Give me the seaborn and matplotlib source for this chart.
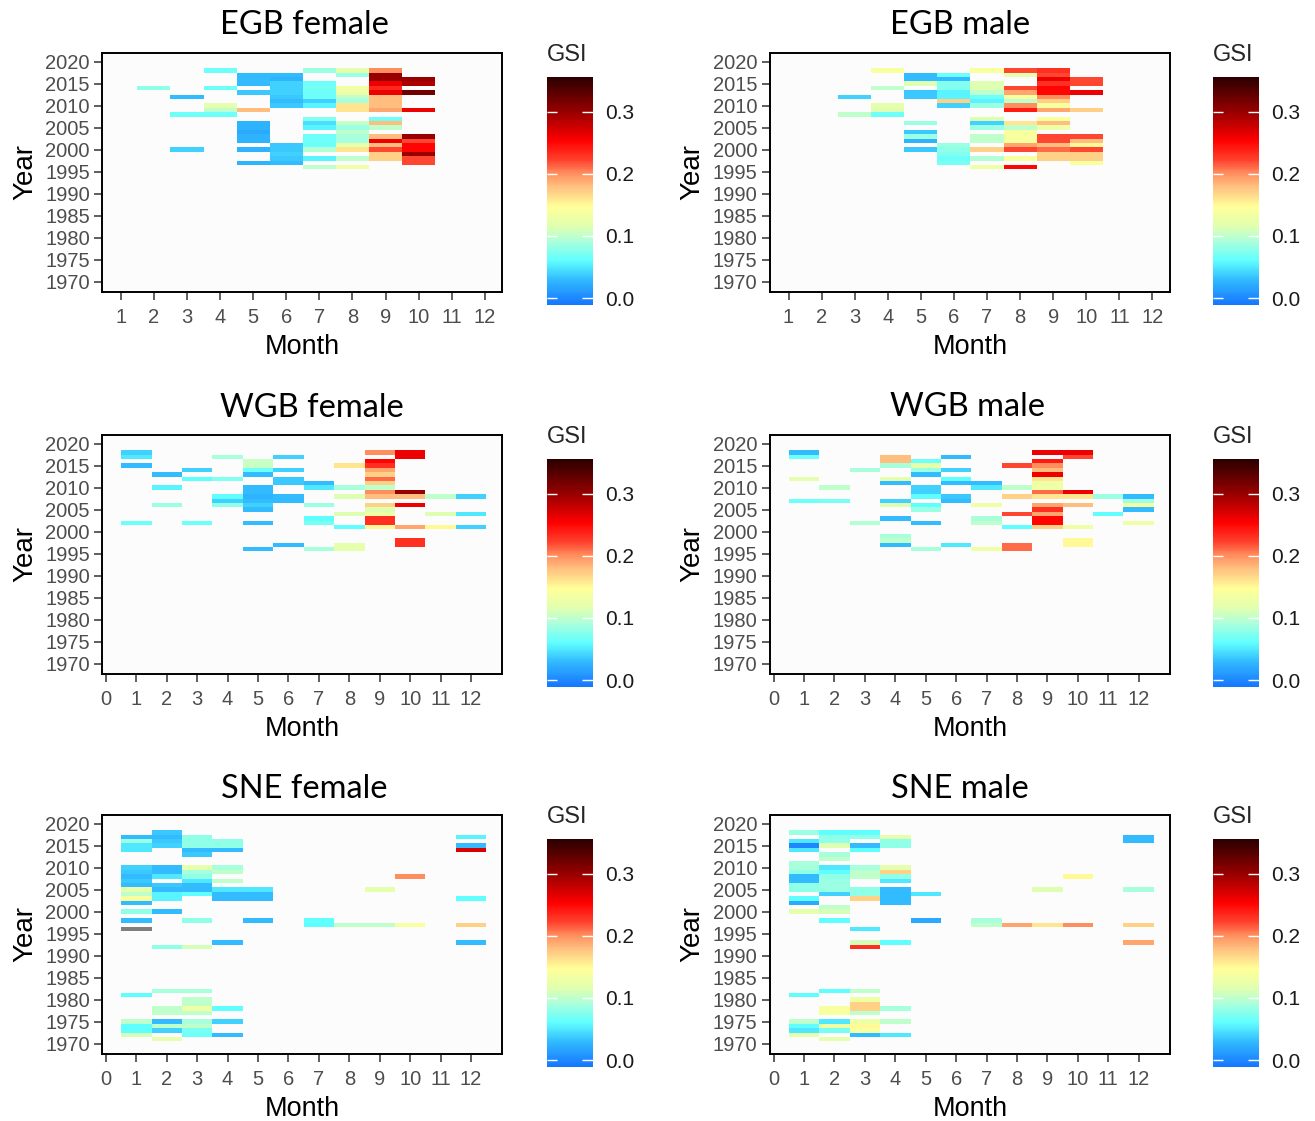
import numpy as np
import pandas as pd
import matplotlib
matplotlib.use("Agg")
import matplotlib.pyplot as plt
import seaborn as sns
from matplotlib.colors import LinearSegmentedColormap, ListedColormap

# (month, year, GSI); None = missing GSI (grey tile)
egb_female = [
    (2, 2014, .08),
    (3, 2012, .03), (3, 2008, .065), (3, 2000, .04),
    (4, 2018, .065), (4, 2014, .065), (4, 2010, .12), (4, 2009, .10), (4, 2008, .065),
    (5, 2017, .03), (5, 2016, .03), (5, 2015, .03), (5, 2013, .035), (5, 2009, .18),
    (5, 2006, .025), (5, 2005, .025), (5, 2004, .02), (5, 2003, .025), (5, 2002, .025),
    (5, 2000, .025), (5, 1997, .025),
    (6, 2017, .03), (6, 2016, .025), (6, 2015, .04), (6, 2014, .04), (6, 2013, .04),
    (6, 2012, .035), (6, 2011, .03), (6, 2010, .035), (6, 2001, .035), (6, 2000, .035),
    (6, 1999, .04), (6, 1998, .035), (6, 1997, .03),
    (7, 2018, .085), (7, 2015, .065), (7, 2014, .07), (7, 2013, .065), (7, 2012, .065),
    (7, 2011, .04), (7, 2010, .055), (7, 2007, .075), (7, 2006, .045), (7, 2005, .055),
    (7, 2003, .065), (7, 2002, .065), (7, 2001, .065), (7, 2000, .095), (7, 1998, .055),
    (7, 1996, .10),
    (8, 2018, .12), (8, 2017, .085), (8, 2014, .13), (8, 2013, .13), (8, 2012, .10),
    (8, 2011, .09), (8, 2010, .16), (8, 2009, .16), (8, 2006, .105), (8, 2005, .085),
    (8, 2004, .10), (8, 2003, .09), (8, 2002, .09), (8, 2001, .12), (8, 2000, .16),
    (8, 1998, .10), (8, 1996, .13),
    (9, 2018, .20), (9, 2017, .30), (9, 2016, .30), (9, 2015, .26), (9, 2014, .235),
    (9, 2013, .26), (9, 2012, .18), (9, 2011, .18), (9, 2010, .18), (9, 2009, .19),
    (9, 2007, .065), (9, 2006, .18), (9, 2005, .10), (9, 2003, .18), (9, 2002, .26),
    (9, 2001, .18), (9, 2000, .22), (9, 1999, .17), (9, 1998, .17),
    (10, 2016, .30), (10, 2015, .29), (10, 2013, .32), (10, 2009, .26), (10, 2003, .30),
    (10, 2002, .22), (10, 2001, .25), (10, 2000, .25), (10, 1999, .30), (10, 1998, .22),
    (10, 1997, .22),
]

egb_male = [
    (3, 2012, .04), (3, 2008, .10),
    (4, 2018, .14), (4, 2014, .10), (4, 2010, .12), (4, 2009, .115), (4, 2008, .065),
    (5, 2017, .03), (5, 2016, .03), (5, 2015, .115), (5, 2013, .035), (5, 2012, .035),
    (5, 2006, .085), (5, 2004, .035), (5, 2003, .085), (5, 2002, .025), (5, 2000, .035),
    (6, 2017, .065), (6, 2016, .03), (6, 2015, .075), (6, 2014, .075), (6, 2013, .055),
    (6, 2012, .055), (6, 2011, .17), (6, 2010, .04), (6, 2001, .085), (6, 2000, .08),
    (6, 1999, .075), (6, 1998, .065), (6, 1997, .07),
    (7, 2018, .14), (7, 2015, .115), (7, 2014, .115), (7, 2013, .10), (7, 2012, .065),
    (7, 2011, .055), (7, 2010, .085), (7, 2007, .115), (7, 2006, .04), (7, 2005, .085),
    (7, 2003, .10), (7, 2002, .10), (7, 2000, .17), (7, 1998, .095), (7, 1996, .13),
    (8, 2018, .22), (8, 2017, .12), (8, 2014, .22), (8, 2013, .19), (8, 2012, .14),
    (8, 2011, .10), (8, 2010, .20), (8, 2009, .24), (8, 2006, .16), (8, 2005, .10),
    (8, 2004, .14), (8, 2003, .14), (8, 2002, .14), (8, 2001, .19), (8, 2000, .22),
    (8, 1998, .14), (8, 1996, .25),
    (9, 2018, .23), (9, 2017, .22), (9, 2016, .26), (9, 2015, .23), (9, 2014, .25),
    (9, 2013, .25), (9, 2012, .20), (9, 2011, .17), (9, 2010, .14), (9, 2009, .19),
    (9, 2007, .14), (9, 2006, .18), (9, 2005, .13), (9, 2003, .22), (9, 2002, .22),
    (9, 2001, .18), (9, 2000, .21), (9, 1999, .17), (9, 1998, .17),
    (10, 2016, .22), (10, 2015, .22), (10, 2013, .26), (10, 2009, .17), (10, 2003, .22),
    (10, 2002, .18), (10, 2001, .15), (10, 2000, .22), (10, 1999, .17), (10, 1998, .17),
    (10, 1997, .14),
]

wgb_female = [
    (1, 2018, .04), (1, 2017, .05), (1, 2015, .03), (1, 2002, .065),
    (2, 2013, .03), (2, 2010, .055), (2, 2006, .085),
    (3, 2014, .04), (3, 2012, .06), (3, 2002, .065),
    (4, 2017, .09), (4, 2012, .075), (4, 2008, .06), (4, 2007, .04), (4, 2006, .08),
    (5, 2016, .105), (5, 2015, .105), (5, 2014, .065), (5, 2013, .03), (5, 2010, .03),
    (5, 2009, .03), (5, 2008, .025), (5, 2007, .03), (5, 2006, .04), (5, 2005, .03),
    (5, 2002, .03), (5, 1996, .03),
    (6, 2017, .04), (6, 2014, .04), (6, 2012, .035), (6, 2011, .035), (6, 2008, .03),
    (6, 2007, .03), (6, 1997, .03),
    (7, 2011, .03), (7, 2010, .05), (7, 2006, .085), (7, 2003, .06), (7, 2002, .07),
    (7, 1996, .09),
    (8, 2015, .16), (8, 2010, .09), (8, 2008, .115), (8, 2004, .115), (8, 2001, .06),
    (8, 1997, .12), (8, 1996, .12),
    (9, 2018, .20), (9, 2016, .25), (9, 2015, .23), (9, 2014, .19), (9, 2013, .17),
    (9, 2012, .21), (9, 2011, .17), (9, 2010, .10), (9, 2009, .20), (9, 2008, .18),
    (9, 2006, .17), (9, 2005, .115), (9, 2004, .13), (9, 2003, .23), (9, 2002, .23),
    (9, 2001, .15),
    (10, 2018, .26), (10, 2017, .26), (10, 2009, .30), (10, 2008, .18), (10, 2006, .26),
    (10, 2001, .19), (10, 1998, .23), (10, 1997, .23),
    (11, 2008, .10), (11, 2004, .115), (11, 2001, .15),
    (12, 2008, .04), (12, 2004, .05), (12, 2001, .04),
]

wgb_male = [
    (1, 2018, .03), (1, 2017, .065), (1, 2012, .12), (1, 2007, .065),
    (2, 2010, .10), (2, 2007, .07),
    (3, 2014, .09), (3, 2002, .095),
    (4, 2017, .18), (4, 2016, .18), (4, 2015, .09), (4, 2012, .12), (4, 2011, .03),
    (4, 2007, .04), (4, 2006, .115), (4, 2003, .03), (4, 1999, .09), (4, 1998, .10),
    (4, 1997, .03),
    (5, 2016, .065), (5, 2015, .12), (5, 2014, .085), (5, 2013, .03), (5, 2010, .04),
    (5, 2009, .04), (5, 2008, .06), (5, 2006, .06), (5, 2005, .085), (5, 2002, .03),
    (5, 1996, .09),
    (6, 2017, .03), (6, 2014, .04), (6, 2012, .06), (6, 2011, .03), (6, 2008, .035),
    (6, 2007, .03), (6, 1997, .05),
    (7, 2011, .03), (7, 2010, .05), (7, 2006, .13), (7, 2003, .09), (7, 2002, .10),
    (7, 1996, .13),
    (8, 2015, .22), (8, 2010, .10), (8, 2008, .17), (8, 2004, .22), (8, 2001, .06),
    (8, 1997, .21), (8, 1996, .21),
    (9, 2018, .26), (9, 2016, .24), (9, 2015, .20), (9, 2014, .18), (9, 2013, .26),
    (9, 2012, .16), (9, 2011, .13), (9, 2010, .13), (9, 2009, .21), (9, 2008, .16),
    (9, 2006, .19), (9, 2005, .23), (9, 2004, .19), (9, 2003, .25), (9, 2002, .25),
    (9, 2001, .17),
    (10, 2018, .26), (10, 2017, .22), (10, 2009, .26), (10, 2008, .16), (10, 2006, .18),
    (10, 2001, .13), (10, 1998, .15), (10, 1997, .15),
    (11, 2008, .085), (11, 2004, .06),
    (12, 2008, .03), (12, 2007, .085), (12, 2006, .14), (12, 2005, .03), (12, 2002, .13),
]

sne_female = [
    (1, 2017, .03), (1, 2016, .085), (1, 2015, .05), (1, 2014, .05), (1, 2010, .04),
    (1, 2009, .035), (1, 2008, .03), (1, 2007, .035), (1, 2006, .03), (1, 2005, .12),
    (1, 2004, .10), (1, 2003, .14), (1, 2002, .03), (1, 2000, .08), (1, 1998, .03),
    (1, 1996, None), (1, 1981, .06), (1, 1975, .10), (1, 1974, .06), (1, 1973, .06),
    (1, 1972, .11),
    (2, 2018, .035), (2, 2017, .03), (2, 2016, .035), (2, 2015, .04), (2, 2010, .03),
    (2, 2009, .03), (2, 2008, .05), (2, 2006, .035), (2, 2005, .03), (2, 2004, .055),
    (2, 2003, .055), (2, 2000, .03), (2, 1992, .08), (2, 1982, .09), (2, 1978, .10),
    (2, 1977, .10), (2, 1975, .03), (2, 1974, .10), (2, 1973, .04), (2, 1971, .12),
    (3, 2017, .08), (3, 2016, .08), (3, 2015, .08), (3, 2014, .03), (3, 2013, .035),
    (3, 2010, .12), (3, 2009, .09), (3, 2008, .08), (3, 2007, .05), (3, 2006, .03),
    (3, 2005, .03), (3, 2004, .06), (3, 1998, .08), (3, 1992, .11), (3, 1982, .09),
    (3, 1980, .10), (3, 1979, .10), (3, 1978, .13), (3, 1977, .10), (3, 1975, .09),
    (3, 1974, .10), (3, 1973, .07), (3, 1972, .065),
    (4, 2016, .08), (4, 2015, .08), (4, 2014, .03), (4, 2010, .09), (4, 2009, .10),
    (4, 2007, .10), (4, 2005, .05), (4, 2004, .03), (4, 2003, .03), (4, 1993, .03),
    (4, 1978, .06), (4, 1975, .04), (4, 1972, .03),
    (5, 2005, .05), (5, 2004, .03), (5, 2003, .03), (5, 1998, .03),
    (7, 1998, .06), (7, 1997, .06),
    (8, 1997, .10),
    (9, 2005, .12), (9, 1997, .10),
    (10, 2008, .20), (10, 1997, .14),
    (12, 2017, .055), (12, 2015, .03), (12, 2014, .27), (12, 2003, .06), (12, 1997, .17),
    (12, 1993, .03),
]

sne_male = [
    (1, 2018, .085), (1, 2016, .05), (1, 2015, .0), (1, 2014, .05), (1, 2011, .09),
    (1, 2010, .09), (1, 2009, .08), (1, 2008, .03), (1, 2007, .03), (1, 2006, .08),
    (1, 2005, .08), (1, 2003, .06), (1, 2002, .02), (1, 2000, .12), (1, 1981, .06),
    (1, 1975, .10), (1, 1974, .06), (1, 1973, .05), (1, 1972, .12),
    (2, 2018, .06), (2, 2017, .08), (2, 2016, .08), (2, 2015, .115), (2, 2013, .09),
    (2, 2012, .10), (2, 2010, .05), (2, 2009, .06), (2, 2008, .08), (2, 2007, .085),
    (2, 2006, .085), (2, 2005, .085), (2, 2004, .04), (2, 2001, .10), (2, 2000, .11),
    (2, 1998, .06), (2, 1982, .06), (2, 1978, .14), (2, 1977, .14), (2, 1975, .05),
    (2, 1974, .13), (2, 1973, .07), (2, 1971, .12),
    (3, 2018, .06), (3, 2017, .08), (3, 2015, .03), (3, 2014, .06), (3, 2010, .09),
    (3, 2009, .10), (3, 2008, .10), (3, 2005, .08), (3, 2004, .08), (3, 2003, .17),
    (3, 1996, .05), (3, 1993, .11), (3, 1992, .23), (3, 1982, .10), (3, 1980, .13),
    (3, 1979, .17), (3, 1978, .17), (3, 1977, .10), (3, 1975, .13), (3, 1974, .15),
    (3, 1973, .14), (3, 1972, .03),
    (4, 2017, .12), (4, 2016, .08), (4, 2015, .08), (4, 2010, .12), (4, 2009, .17),
    (4, 2008, .08), (4, 2007, .05), (4, 2005, .03), (4, 2004, .03), (4, 2003, .03),
    (4, 2002, .03), (4, 1993, .06), (4, 1978, .09), (4, 1975, .10), (4, 1972, .05),
    (5, 2004, .05), (5, 1998, .02),
    (7, 1998, .09), (7, 1997, .10),
    (8, 1997, .19),
    (9, 2005, .115), (9, 1997, .16),
    (10, 2008, .15), (10, 1997, .20),
    (12, 2017, .03), (12, 2016, .03), (12, 2005, .09), (12, 1997, .17), (12, 1993, .19),
]

titles = ["EGB female", "EGB male", "WGB female", "WGB male", "SNE female", "SNE male"]
year_ticks = list(range(1970, 2021, 5))
gsi_ticks = [0.0, 0.1, 0.2, 0.3]

VMIN, VMAX = -0.011, 0.356
stops = [(-0.011, "#1478FF"), (0.0, "#1E88FF"), (0.028, "#30B8FF"), (0.06, "#60FFFF"),
         (0.093, "#B0FFD8"), (0.115, "#E0FFB0"), (0.147, "#FFFF99"), (0.179, "#FFC080"),
         (0.2, "#FF9060"), (0.221, "#FF4530"), (0.253, "#FF0000"), (0.296, "#A00000"),
         (0.356, "#2A0000")]
gsi_cmap = LinearSegmentedColormap.from_list(
    "gsi", [((v - VMIN) / (VMAX - VMIN), c) for v, c in stops])

sns.set_style("white")
plt.rcParams["font.family"] = ["Liberation Sans", "DejaVu Sans"]

W, H = 1315, 1121
fig = plt.figure(figsize=(W / 100, H / 100), dpi=100)

ROWS = np.arange(2022, 1965, -1)
COLS = np.arange(0, 14)


def px(l, t, w, h):
    return [l / W, 1 - (t + h) / H, w / W, h / H]


def draw_panel(ax, cax, cells, month_ticks, xlim):
    df = pd.DataFrame(cells, columns=["month", "year", "gsi"])
    df["gsi"] = df["gsi"].astype(float)
    grid = (df.dropna()
              .pivot_table(index="year", columns="month", values="gsi", aggfunc="mean")
              .reindex(index=ROWS, columns=COLS))
    sns.heatmap(grid, ax=ax, cmap=gsi_cmap, vmin=VMIN, vmax=VMAX, cbar_ax=cax,
                cbar_kws={"ticks": gsi_ticks}, xticklabels=False, yticklabels=False)
    na = df[df["gsi"].isna()]
    if len(na):
        na_grid = (na.assign(v=1.0)
                     .pivot_table(index="year", columns="month", values="v")
                     .reindex(index=ROWS, columns=COLS))
        sns.heatmap(na_grid, ax=ax, cmap=ListedColormap(["#7F7F7F"]), cbar=False,
                    xticklabels=False, yticklabels=False)

    ax.set_xticks(np.array(month_ticks) + 0.5)
    ax.set_xticklabels([str(m) for m in month_ticks])
    ax.set_yticks(2022 - np.array(year_ticks) + 0.5)
    ax.set_yticklabels([str(y) for y in year_ticks], rotation=0)
    ax.set_xlim(xlim[0] + 0.5, xlim[1] + 0.5)
    ax.set_ylim(2022 - 1967.7 + 0.5, 0.5)
    ax.set_facecolor("#FCFCFC")
    for s in ax.spines.values():
        s.set_visible(True)
        s.set_color("black")
        s.set_linewidth(1.4)
    ax.tick_params(axis="both", length=5.5, width=1.1, color="#333333", labelsize=14.5,
                   labelcolor="#4D4D4D", bottom=True, left=True)
    ax.tick_params(axis="x", pad=6)
    ax.tick_params(axis="y", pad=3.5)
    ax.set_xlabel("Month", fontsize=19.5, color="black", labelpad=5)
    ax.set_ylabel("Year", fontsize=20, color="black", labelpad=5)

    cbar = ax.collections[0].colorbar
    cbar.outline.set_visible(False)
    cax.tick_params(length=0, labelsize=15, labelcolor="#1A1A1A", pad=9)
    cax.hlines(gsi_ticks, 0, 0.22, colors="white", lw=1, transform=cax.get_yaxis_transform())
    cax.hlines(gsi_ticks, 0.78, 1, colors="white", lw=1, transform=cax.get_yaxis_transform())
    cax.set_title("GSI", loc="left", fontsize=17, pad=11)


panels = [egb_female, egb_male, wgb_female, wgb_male, sne_female, sne_male]
row_tops = [52.7, 434.7, 814.7]
col_lefts = [102.3, 770]
cbar_lefts = [547, 1213]
title_pos = [(304, 25), (960, 25), (312, 408), (968, 407), (304, 789), (960, 789)]

for i, cells in enumerate(panels):
    r, c = divmod(i, 2)
    ax = fig.add_axes(px(col_lefts[c], row_tops[r], 400, 239))
    cax = fig.add_axes(px(cbar_lefts[c], row_tops[r] + 24, 45.5, 228.3))
    if r == 0:
        draw_panel(ax, cax, cells, list(range(1, 13)), (0.44, 12.53))
    else:
        draw_panel(ax, cax, cells, list(range(0, 13)), (-0.12, 13.03))
    tx, ty = title_pos[i]
    fig.text(tx / W, 1 - ty / H, titles[i], family=["Lato", "DejaVu Sans"], fontsize=23.5,
             ha="center", va="center", color="black")

fig.savefig("out.png", dpi=100, facecolor="white")
